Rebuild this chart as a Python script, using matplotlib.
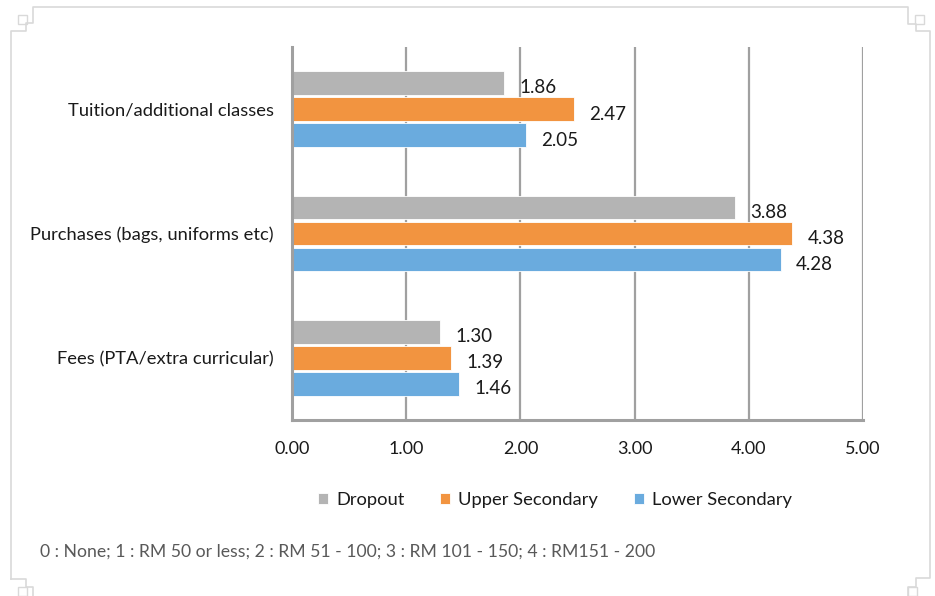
import matplotlib
matplotlib.use("Agg")
import matplotlib.pyplot as plt
from matplotlib.lines import Line2D
from matplotlib.patches import Rectangle
import numpy as np

plt.rcParams['font.family'] = ['Lato', 'DejaVu Sans']

categories = ['Fees (PTA/extra curricular)', 'Purchases (bags, uniforms etc)', 'Tuition/additional classes']
dropout = [1.30, 3.88, 1.86]
upper_secondary = [1.39, 4.38, 2.47]
lower_secondary = [1.46, 4.28, 2.05]
xticks = [0, 1, 2, 3, 4, 5]
note = '0 : None; 1 : RM 50 or less; 2 : RM 51 - 100; 3 : RM 101 - 150; 4 : RM151 - 200'

W, H = 935, 596
fig = plt.figure(figsize=(W / 100, H / 100), dpi=100)
ax = fig.add_axes([292 / W, 1 - 420 / H, 571 / W, 373 / H])

y = np.arange(len(categories))
step = 0.21
bh = 0.19
series = [
    ('Dropout', dropout, '#B4B4B4', step),
    ('Upper Secondary', upper_secondary, '#F29440', 0),
    ('Lower Secondary', lower_secondary, '#6AABDE', -step),
]
for name, vals, col, off in series:
    bars = ax.barh(y + off, vals, height=bh, color=col, edgecolor='white', linewidth=0.6, label=name, zorder=3)
    for b, v in zip(bars, vals):
        ax.annotate(f'{v:.2f}', (v, b.get_y() + b.get_height() / 2), xytext=(11, -3.5),
                    textcoords='offset points', ha='left', va='center', fontsize=13.5, color='#1a1a1a')

ax.set_xlim(0, 5)
ax.set_ylim(-0.5, 2.5)
ax.set_xticks(xticks)
ax.set_xticklabels([f'{t:.2f}' for t in xticks], fontsize=13, color='#1a1a1a')
ax.set_yticks(y)
ax.set_yticklabels(categories, fontsize=13.2, color='#1a1a1a')
ax.tick_params(length=0, pad=13)
ax.tick_params(axis='x', pad=15)
ax.grid(axis='x', color='#A0A0A0', linewidth=1.6, zorder=0)
for s in ['top', 'right']:
    ax.spines[s].set_visible(False)
for s in ['left', 'bottom']:
    ax.spines[s].set_color('#A0A0A0')
    ax.spines[s].set_linewidth(2.2)
    ax.spines[s].set_zorder(4)

leg = fig.legend(loc='center', bbox_to_anchor=(555 / W, 1 - 500 / H), ncol=3, frameon=False,
                 fontsize=13.2, handlelength=0.55, handleheight=0.55, handletextpad=0.45, columnspacing=1.95)
for t in leg.get_texts():
    t.set_color('#1a1a1a')

fig.text(40 / W, 1 - 552 / H, note, fontsize=12.7, color='#595959', ha='left', va='center')

# chart frame with corner handles
def px(points):
    xs = [p[0] / W for p in points]
    ys = [1 - p[1] / H for p in points]
    return xs, ys

frame_col = '#D9D9D9'
paths = [
    [(11, 579), (11, 31), (26, 31), (26, 23), (33, 23), (33, 7), (908, 7), (908, 24), (916, 24), (916, 31), (930, 31), (930, 578), (916, 578), (916, 587), (908, 587), (908, 600)],
    [(11, 579), (26, 579), (26, 587), (33, 587), (33, 600)],
]
for p in paths:
    xs, ys = px(p)
    fig.add_artist(Line2D(xs, ys, color=frame_col, linewidth=1.2))
for (x0, y0) in [(18, 15), (915, 15), (18, 587), (908, 587)]:
    fig.add_artist(Rectangle((x0 / W, 1 - (y0 + 9) / H), 9 / W, 9 / H, fill=False, edgecolor=frame_col, linewidth=1.0))

fig.savefig('out.png', dpi=100)
